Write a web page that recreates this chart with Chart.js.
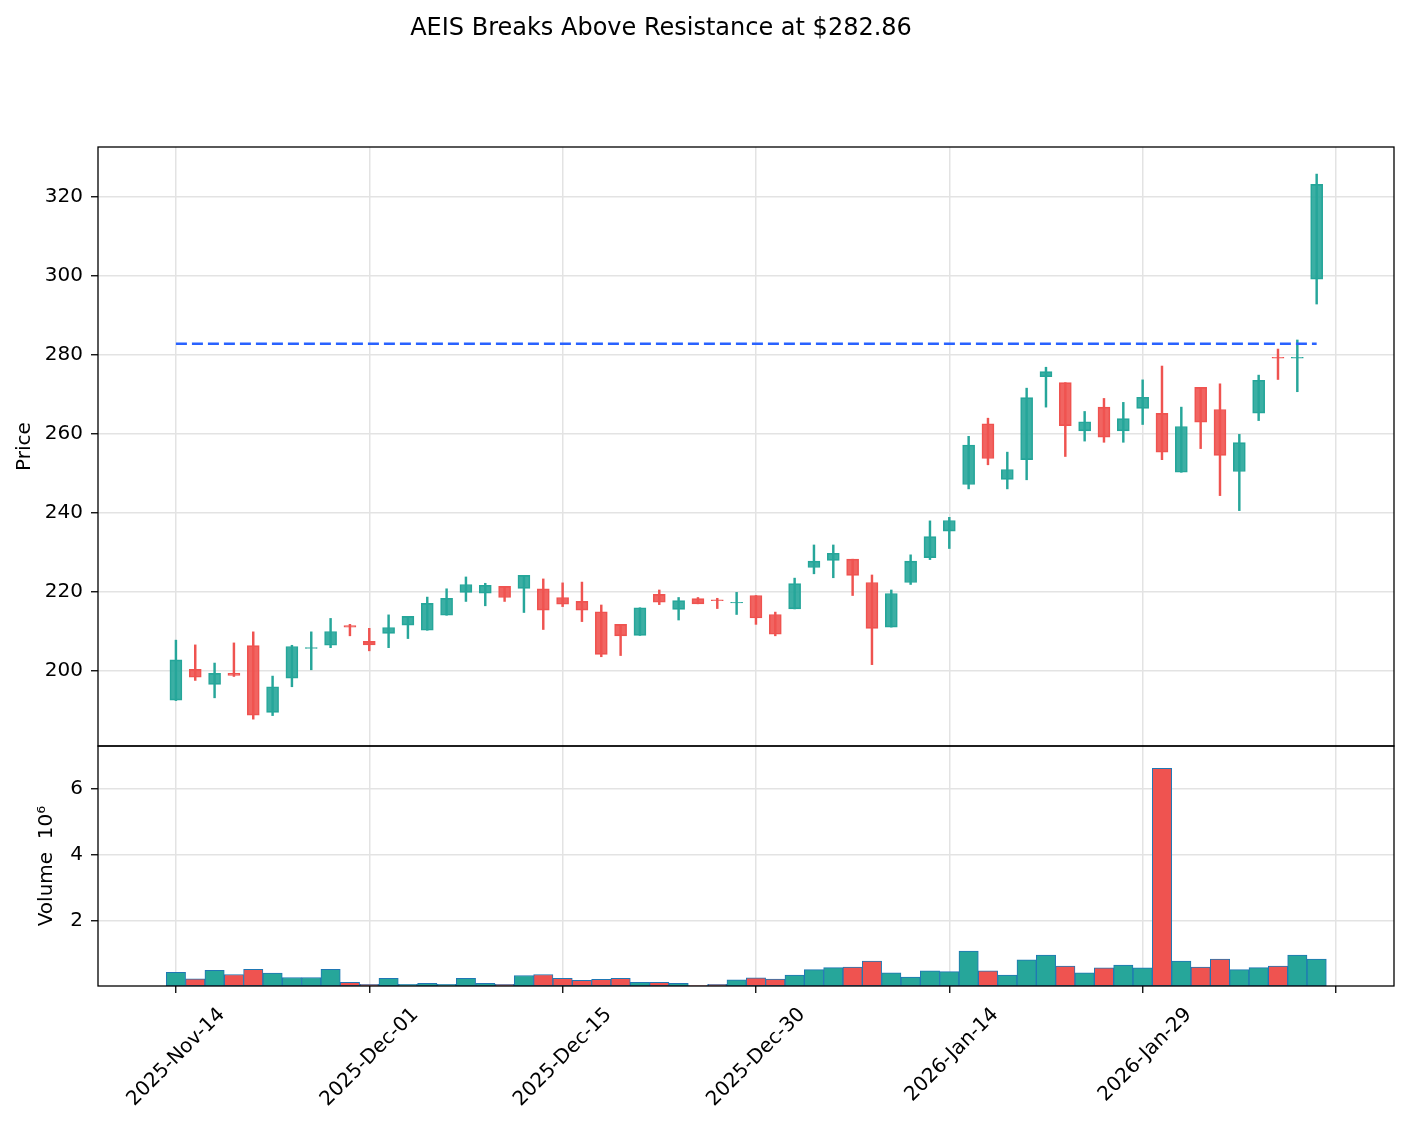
<!DOCTYPE html>
<html>
<head>
<meta charset="utf-8">
<title>AEIS Breaks Above Resistance</title>
<script src="https://cdn.jsdelivr.net/npm/chart.js@4.4.1/dist/chart.umd.min.js"></script>
<style>
    html, body { margin: 0; padding: 0; background: #fff; }
    #chartBox { position: relative; width: 1408px; height: 1126px; }
</style>
</head>
<body>
<div id="chartBox"><canvas id="aeisChart" width="1408" height="1126"></canvas></div>
<script>
// Values (one entry per trading day, Nov 14 → Feb 11)
const chartTitle = "AEIS Breaks Above Resistance at $282.86";
const resistance = 282.86;

const opens = [
    192.6, 200.4, 196.6, 199.4, 206.4, 189.5, 198.2, 205.7, 206.5, 211.5,
    207.5, 209.5, 211.6, 210.3, 214.1, 219.9, 219.7, 221.4, 220.9, 220.8,
    218.6, 217.6, 215.0, 211.8, 209.0, 219.4, 215.6, 218.3, 218.0, 217.2,
    219.1, 214.3, 215.7, 226.2, 228.0, 228.3, 222.4, 211.1, 222.4, 228.7,
    235.4, 247.2, 262.6, 248.5, 253.5, 274.5, 273.0, 260.8, 266.8, 260.8,
    266.5, 265.2, 250.3, 271.8, 266.2, 250.5, 265.3, 279.4, 279.2, 299.2
];
const highs = [
    207.8, 206.6, 202.0, 207.1, 209.9, 198.7, 206.5, 209.9, 213.3, 211.8,
    210.8, 214.2, 213.8, 218.7, 220.8, 223.8, 222.2, 221.4, 224.2, 223.3,
    222.3, 222.5, 216.7, 211.8, 216.0, 220.5, 218.6, 218.6, 218.4, 219.9,
    219.1, 214.9, 223.5, 231.9, 231.9, 228.3, 224.3, 220.5, 229.4, 238.0,
    238.9, 259.4, 264.0, 255.4, 271.6, 276.9, 273.0, 265.7, 269.0, 268.0,
    273.7, 277.2, 266.8, 271.8, 272.7, 259.9, 274.9, 281.5, 283.8, 325.8
];
const lows = [
    192.5, 197.6, 193.2, 198.6, 187.8, 188.7, 196.0, 200.3, 205.9, 208.9,
    205.1, 205.9, 208.2, 210.3, 214.1, 217.6, 216.5, 217.6, 214.8, 210.5,
    216.3, 212.5, 203.6, 203.9, 209.0, 216.8, 212.9, 217.0, 215.8, 214.3,
    211.8, 208.9, 215.7, 224.6, 223.6, 219.1, 201.6, 211.1, 221.9, 228.2,
    231.0, 246.1, 252.2, 246.1, 248.4, 266.8, 254.3, 258.2, 257.9, 257.9,
    262.4, 253.5, 250.3, 256.3, 244.4, 240.6, 263.4, 273.8, 270.7, 292.9
];
const closes = [
    202.8, 198.4, 199.4, 198.9, 188.8, 196.0, 206.2, 205.9, 210.0, 211.1,
    206.6, 211.0, 213.8, 217.1, 218.4, 221.9, 221.7, 218.6, 224.2, 215.4,
    216.9, 215.4, 204.2, 208.9, 216.0, 217.4, 217.8, 217.0, 217.8, 217.4,
    213.4, 209.3, 222.1, 227.8, 229.8, 224.2, 210.8, 219.6, 227.8, 234.0,
    238.1, 257.2, 253.8, 251.0, 269.2, 275.8, 262.1, 263.1, 259.2, 263.9,
    269.3, 255.4, 261.9, 263.0, 254.6, 257.8, 273.6, 279.2, 279.4, 323.2
];
// volume in millions of shares
const volumesM = [
    0.42, 0.22, 0.48, 0.35, 0.51, 0.39, 0.26, 0.26, 0.51, 0.11,
    0.05, 0.23, 0.05, 0.08, 0.05, 0.23, 0.08, 0.05, 0.32, 0.35,
    0.23, 0.17, 0.20, 0.23, 0.11, 0.11, 0.08, 0.01, 0.05, 0.19,
    0.25, 0.21, 0.33, 0.50, 0.56, 0.58, 0.76, 0.40, 0.27, 0.46,
    0.44, 1.06, 0.46, 0.33, 0.80, 0.94, 0.61, 0.40, 0.55, 0.64,
    0.55, 6.63, 0.76, 0.58, 0.82, 0.50, 0.56, 0.61, 0.94, 0.82
];

const tickPositions = [0, 10, 20, 30, 40, 50, 60];
const tickLabels = ["2025-Nov-14", "2025-Dec-01", "2025-Dec-15", "2025-Dec-30", "2026-Jan-14", "2026-Jan-29", ""];
const priceTicks = [200, 220, 240, 260, 280, 300, 320];
const volumeTicks = [2, 4, 6];

const UP = "#26a69a";
const DOWN = "#ef5350";
const FONT = "'DejaVu Sans', sans-serif";
const GRID = "#e3e3e3";

const upFlags = closes.map((c, i) => c >= opens[i]);
const edgeColors = upFlags.map(u => u ? UP : DOWN);
const bodyColors = upFlags.map(u => u ? "rgba(38,166,154,0.9)" : "rgba(239,83,80,0.9)");

const panelFrame = {
    id: "panelFrame",
    afterDatasetsDraw(chart) {
        const { ctx, chartArea } = chart;
        ctx.save();
        ctx.strokeStyle = "#000";
        ctx.lineWidth = 1.3;
        ["y", "yv"].forEach(id => {
            const s = chart.scales[id];
            ctx.strokeRect(chartArea.left, s.top, chartArea.right - chartArea.left, s.bottom - s.top);
        });
        ctx.restore();
    },
    afterDraw(chart) {
        const { ctx } = chart;
        ctx.save();
        ctx.fillStyle = "#000";
        ctx.font = "24px " + FONT;
        ctx.textAlign = "center";
        ctx.textBaseline = "alphabetic";
        ctx.fillText(chartTitle, 661, 35);
        ctx.restore();
    }
};

const tickFont = { family: FONT, size: 20 };
const gridStyle = { color: GRID, lineWidth: 1.5, tickColor: "#000", tickLength: 7, tickWidth: 1.3, offset: false };

new Chart(document.getElementById("aeisChart"), {
    type: "bar",
    data: {
        datasets: [
            {
                type: "line",
                label: "Resistance",
                data: [{ x: 0, y: resistance }, { x: opens.length - 1, y: resistance }],
                yAxisID: "y",
                borderColor: "#2962ff",
                borderWidth: 2.5,
                borderDash: [11, 5],
                pointRadius: 0,
                fill: false
            },
            {
                label: "Body",
                data: opens.map((o, i) => ({ x: i, y: [o, closes[i]] })),
                yAxisID: "y",
                backgroundColor: bodyColors,
                borderColor: edgeColors,
                borderWidth: 1,
                borderSkipped: false,
                barThickness: 12,
                grouped: false
            },
            {
                label: "Wick",
                data: lows.map((l, i) => ({ x: i, y: [l, highs[i]] })),
                yAxisID: "y",
                backgroundColor: edgeColors,
                borderWidth: 0,
                barThickness: 1.8,
                grouped: false
            },
            {
                label: "Volume",
                data: volumesM.map((v, i) => ({ x: i, y: v })),
                yAxisID: "yv",
                backgroundColor: edgeColors,
                borderColor: "#1f77b4",
                borderWidth: 1,
                borderSkipped: false,
                barPercentage: 1,
                categoryPercentage: 1,
                grouped: false
            }
        ]
    },
    options: {
        responsive: false,
        animation: false,
        devicePixelRatio: 1,
        layout: { padding: { top: 147, right: 14, left: 0, bottom: 0 } },
        plugins: {
            legend: { display: false },
            tooltip: { enabled: false }
        },
        scales: {
            x: {
                type: "linear",
                min: -4.03,
                max: 63.0,
                offset: false,
                afterBuildTicks: s => { s.ticks = tickPositions.map(v => ({ value: v })); },
                afterFit: s => { s.height = 140; },
                ticks: {
                    autoSkip: false,
                    minRotation: 45,
                    maxRotation: 45,
                    labelOffset: 46,
                    padding: 10,
                    color: "#000",
                    font: tickFont,
                    callback: v => {
                        const k = tickPositions.indexOf(v);
                        return k >= 0 ? tickLabels[k] : "";
                    }
                },
                grid: gridStyle,
                border: { display: false }
            },
            // stacked panels are placed bottom-up: volume first, price above it
            yv: {
                type: "linear",
                position: "left",
                stack: "panels",
                stackWeight: 240,
                min: 0,
                max: 7.31,
                afterBuildTicks: s => { s.ticks = volumeTicks.map(v => ({ value: v })); },
                afterFit: s => { s.width = 98; },
                ticks: { color: "#000", font: tickFont, padding: 8 },
                grid: gridStyle,
                border: { display: false },
                title: { display: true, text: "Volume  10⁶", color: "#000", font: tickFont, padding: { top: 35, bottom: 0 } }
            },
            y: {
                type: "linear",
                position: "left",
                stack: "panels",
                stackWeight: 599,
                min: 181.0,
                max: 332.66,
                afterBuildTicks: s => { s.ticks = priceTicks.map(v => ({ value: v })); },
                afterFit: s => { s.width = 98; },
                ticks: { color: "#000", font: tickFont, padding: 8 },
                grid: gridStyle,
                border: { display: false },
                title: { display: true, text: "Price", color: "#000", font: tickFont, padding: { top: 13, bottom: 0 } }
            }
        }
    },
    plugins: [panelFrame]
});
</script>
</body>
</html>
